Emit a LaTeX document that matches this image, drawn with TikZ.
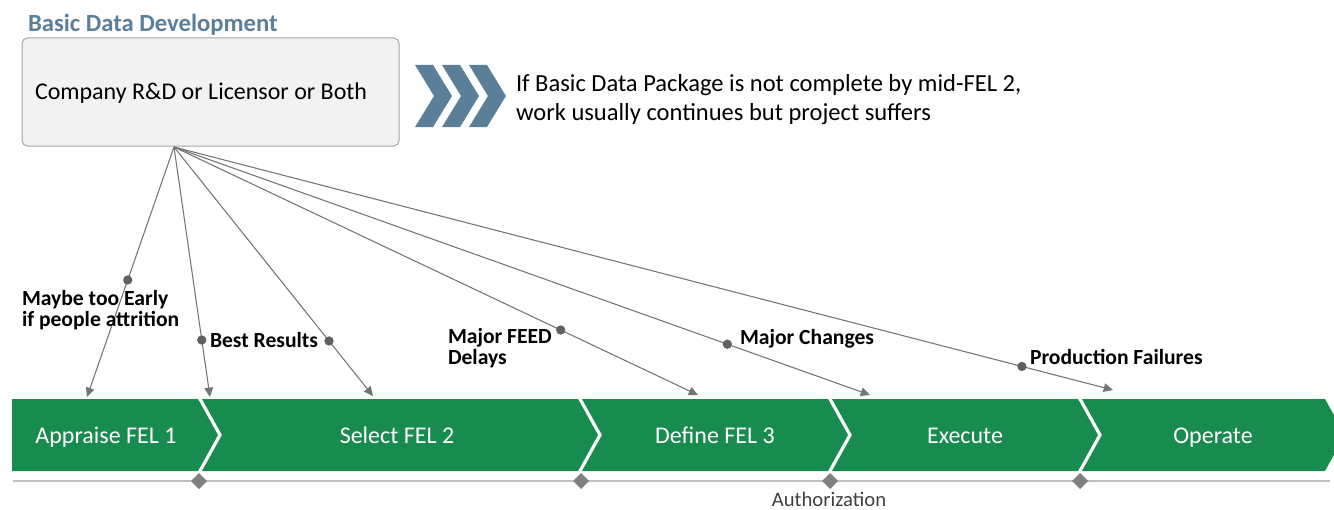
\documentclass[tikz,border=0pt]{standalone}
\usepackage{fontspec}
\setmainfont{Carlito}
\usetikzlibrary{arrows.meta,shapes.geometric}
\definecolor{steel}{HTML}{5B7F99}
\definecolor{fgreen}{HTML}{178C4E}
\definecolor{conncol}{HTML}{747474}
\definecolor{dotcol}{HTML}{606060}
\definecolor{diamcol}{HTML}{808080}
\definecolor{boxfill}{HTML}{F2F2F2}
\definecolor{boxline}{HTML}{A6A6A6}
\definecolor{authcol}{HTML}{404040}
\definecolor{railcol}{HTML}{C0C0C0}
\begin{document}
\begin{tikzpicture}[x=0.75pt,y=-0.75pt,
  every node/.style={inner sep=0pt, outer sep=0pt},
  titletext/.style={font=\bfseries\fontsize{18.5}{22}\selectfont, text=steel, anchor=base west},
  srcbox/.style={draw=boxline, fill=boxfill, rounded corners=4pt, line width=0.75pt},
  bodytext/.style={font=\fontsize{18}{21}\selectfont, anchor=base west, align=left},
  notetext/.style={font=\fontsize{18.4}{21}\selectfont, anchor=base west, align=left},
  lbl/.style={font=\bfseries\fontsize{16.2}{15.4}\selectfont, anchor=base west, align=left},
  stagetext/.style={font=\fontsize{18}{22}\selectfont, text=white, anchor=base},
  seg/.style={fill=fgreen},
  chev/.style={fill=steel},
  conn/.style={draw=conncol, line width=0.8pt, -{Triangle[length=7pt,width=6.5pt]}},
  dot/.style={circle, fill=dotcol, minimum size=7pt},
  milestone/.style={diamond, fill=diamcol, minimum size=12pt},
  rail/.style={draw=railcol, line width=1.5pt}
]
\useasboundingbox (0,0) rectangle (1334,510);

% title and source box
\node[titletext] (title) at (28,32) {Basic Data Development};
\node[srcbox, minimum width=282.75pt, minimum height=81pt, anchor=north west] (src) at (22,38) {};
\node[bodytext] (srctext) at (35,99) {Company R\&D or Licensor or Both};
\coordinate (hub) at (174,147);

% chevrons
\foreach \x in {415,442,469}
  \fill[chev] (\x,65) -- ++(18,0) -- ++(19,31) -- ++(-19,31) -- ++(-18,0) -- ++(19,-31) -- cycle;
\node[notetext] (note) at (516,120) {If Basic Data Package is not complete by mid-FEL 2,\\work usually continues but project suffers};

% phase bar
\fill[seg] (12,399) -- (198,399) -- (218,435) -- (198,471) -- (12,471) -- cycle;
\fill[seg] (202,399) -- (578,399) -- (598,435) -- (578,471) -- (202,471) -- (222,435) -- cycle;
\fill[seg] (582,399) -- (828,399) -- (848,435) -- (828,471) -- (582,471) -- (602,435) -- cycle;
\fill[seg] (832,399) -- (1078,399) -- (1098,435) -- (1078,471) -- (832,471) -- (852,435) -- cycle;
\fill[seg] (1082,399) -- (1325,399) -- (1345,435) -- (1325,471) -- (1082,471) -- (1102,435) -- cycle;
\node[stagetext] (s1) at (106,443) {Appraise FEL 1};
\node[stagetext] (s2) at (397,443) {Select FEL 2};
\node[stagetext] (s3) at (715,443) {Define FEL 3};
\node[stagetext] (s4) at (965,443) {Execute};
\node[stagetext] (s5) at (1213,443) {Operate};

% rail and milestones
\coordinate (railL) at (13,481);
\coordinate (railR) at (1330,481);
\draw[rail] (railL) -- (railR);
\node[milestone] (m1) at (199,481) {};
\node[milestone] (m2) at (581,481) {};
\node[milestone] (m3) at (830,481) {};
\node[milestone] (m4) at (1080,481) {};
\node[font=\fontsize{15.5}{18}\selectfont, text=authcol, anchor=base] (auth) at (829,506) {Authorization};

% connectors
\coordinate (t1) at (87,397);
\coordinate (t2) at (210,397);
\coordinate (t3) at (373,396);
\coordinate (t4) at (698,395);
\coordinate (t5) at (870,395);
\coordinate (t6) at (1113,390);
\draw[conn] (hub) -- node[dot, pos=0.532] (p1) {} (t1);
\draw[conn] (hub) -- node[dot, pos=0.772] (p2) {} (t2);
\draw[conn] (hub) -- node[dot, pos=0.779] (p3) {} (t3);
\draw[conn] (hub) -- node[dot, pos=0.738] (p4) {} (t4);
\draw[conn] (hub) -- node[dot, pos=0.795] (p5) {} (t5);
\draw[conn] (hub) -- node[dot, pos=0.903] (p6) {} (t6);

% labels
\node[lbl] (l1) at (22,326) {Maybe too Early\\if people attrition};
\node[lbl] (l2) at (210,347) {Best Results};
\node[lbl] (l3) at (448,364) {Major FEED\\Delays};
\node[lbl] (l4) at (740,344) {Major Changes};
\node[lbl] (l5) at (1030,364) {Production Failures};
\end{tikzpicture}
\end{document}
